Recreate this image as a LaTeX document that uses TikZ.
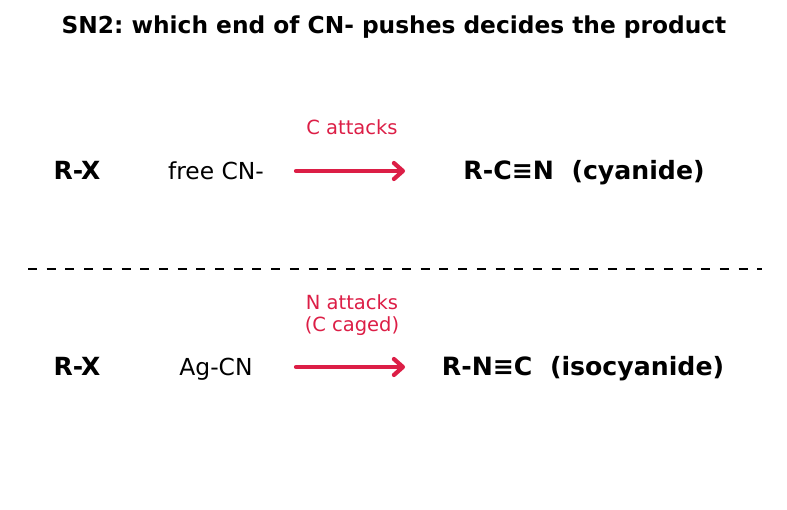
\documentclass[tikz,border=0pt]{standalone}
\usepackage{fontspec}
\setmainfont{DejaVu Sans}
\usetikzlibrary{arrows.meta}
\definecolor{attack}{RGB}{220,30,70}
\tikzset{
  lbl/.style={font=\fontsize{19.5}{22}\selectfont, text=attack, align=center, inner sep=0pt},
  rx/.style={font=\fontsize{25}{28}\selectfont\bfseries, inner sep=0pt, anchor=base},
  reag/.style={font=\fontsize{23.4}{27}\selectfont, inner sep=0pt, anchor=base},
  prod/.style={font=\fontsize{25.2}{28}\selectfont\bfseries, inner sep=0pt, anchor=base},
  rxarrow/.style={draw=attack, line width=4.2pt, line cap=round, -{Straight Barb[length=9pt,width=16pt,round]}},
}
\begin{document}
\frenchspacing
\begin{tikzpicture}[x=1pt,y=-1pt]
\useasboundingbox (0,0) rectangle (787,510);
\node[font=\fontsize{23.3}{27}\selectfont\bfseries, inner sep=0pt, anchor=base] (title) at (394,33.5) {SN2: which end of CN- pushes decides the product};
% top row
\node[rx] (rx1) at (77,180) {R-X};
\node[reag] (r1) at (216,179.5) {free CN-};
\coordinate (a1s) at (296,171);
\coordinate (a1e) at (405,171);
\draw[rxarrow] (a1s) -- (a1e);
\node[lbl, anchor=base] (l1) at (352,135) {C attacks};
\node[prod] (p1) at (584,180) {R-C≡N\ \ (cyanide)};
% divider
\coordinate (d1) at (28,269);
\coordinate (d2) at (762,269);
\draw[line width=1.6pt, dash pattern=on 9pt off 9.7pt] (d1) -- (d2);
% bottom row
\node[rx] (rx2) at (77,376) {R-X};
\node[reag] (r2) at (216,375.5) {Ag-CN};
\coordinate (a2s) at (296,367);
\coordinate (a2e) at (405,367);
\draw[rxarrow] (a2s) -- (a2e);
\node[lbl] (l2) at (352,315) {N attacks\\(C caged)};
\node[prod] (p2) at (583,376) {R-N≡C\ \ (isocyanide)};
\end{tikzpicture}
\end{document}
